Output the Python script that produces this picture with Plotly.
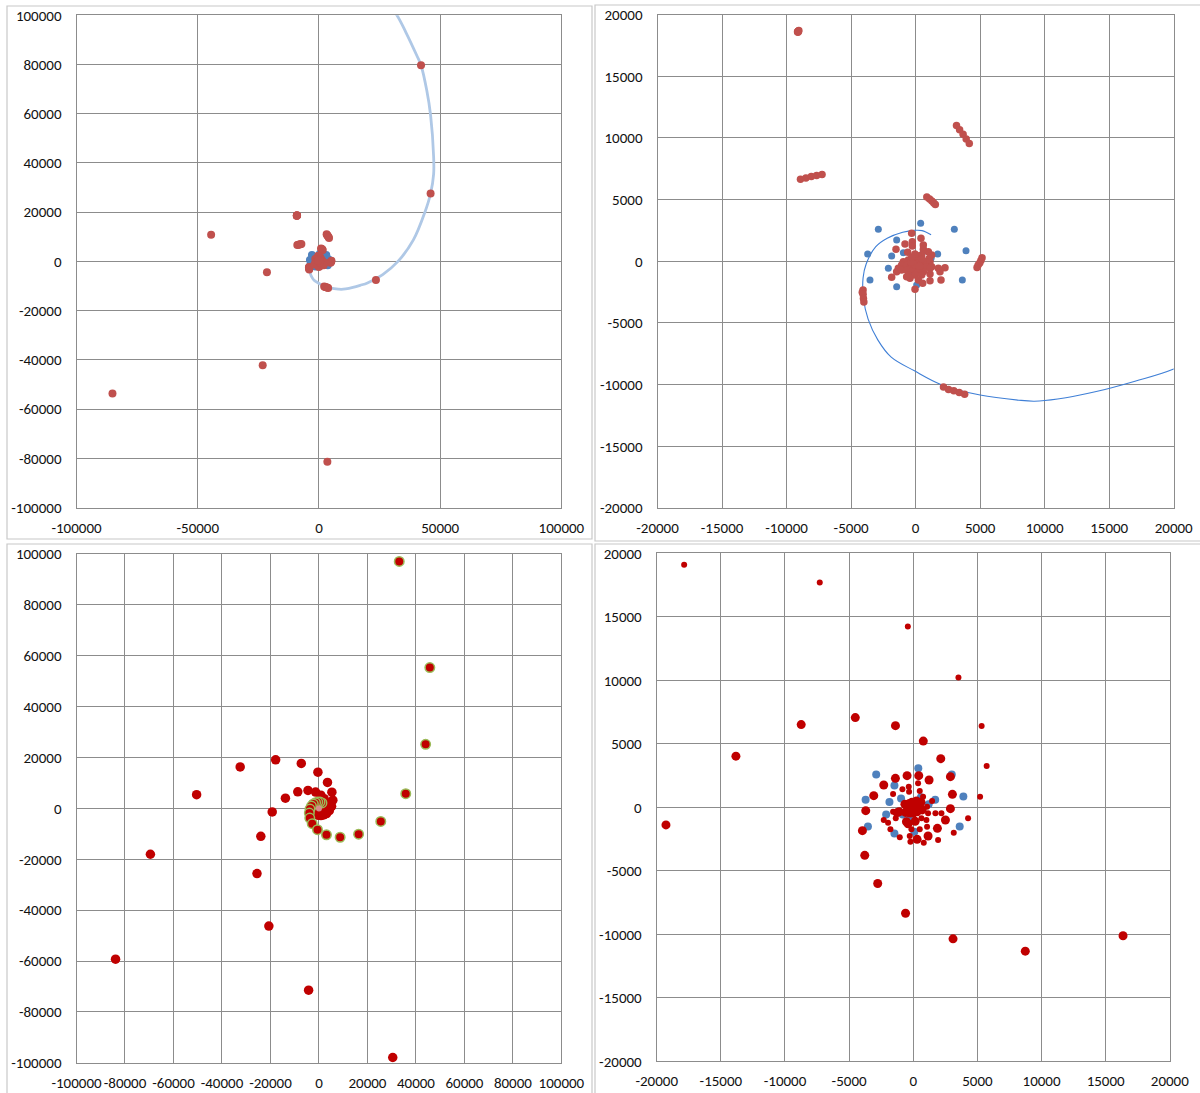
import plotly.graph_objects as go

W, H = 1200, 1093

# ---------------- upper pair: path curve, blue bodies, red bodies ----------------
curve_x = [1200, 500, -100, -1000, -2200, -3100, -3830, -4070, -4040, -3680, -2930, -1890,
           -90, 2000, 5000, 8000, 9200, 11000, 14000, 17000, 20000, 26300, 32600, 38950,
           43700, 46050, 47300, 47300, 46050, 44500, 42100, 40500, 35800, 32170, 29000]
curve_y = [2150, 2490, 2510, 2350, 1870, 1170, -220, -1340, -3020, -4690, -6370, -7770,
           -8880, -10000, -10840, -11260, -11340, -11170, -10560, -9720, -8740, -5350, 0, 8730,
           20000, 27600, 35500, 42500, 59400, 69300, 79700, 83350, 93200, 100000, 104000]

blue_x = [393, -2888, 3001, -1467, 3906, -3714, -1855, -951, 1710, -2113, -3534, -1467,
          3621, 83, -821, 1200, -300, 600]
blue_y = [3078, 2592, 2592, 1727, 862, 592, 430, 700, 592, -570, -1516, -2057,
          -1516, -1921, -570, 250, -900, 800]

red_x = [
    # groups of five
    -9150, -9100, -9050, -9120, -9080,
    -8920, -8500, -8080, -7670, -7250,
    3170, 3410, 3680, 3920, 4160,
    870, 1080, 1260, 1410, 1530,
    5150, 5060, 4970, 4850, 4760,
    -4070, -4130, -4070, -4040, -4010,
    2160, 2550, 2960, 3380, 3800,
    # far bodies
    42100, 46050, 23500, -44470, -21450, -23200, -85160, 3470,
    # core
    -305, 418, -821, -253, -253, -1519, 599, 599, -615, 987, 1245, 1064, -951, -563,
    -176, 212, 470, -46, 341, 728, 1116, -1080, -1338, -692, -305, 83, 470, 858, 1245,
    -1467, -1080, -692, -176, 212, 599, 1116, 1762, 2278, -563, -46, 470, 1116, 1891,
    -1855, -434, 212, 548, 1116, 1968, -46, -692,
    0, 100, -200, 250, -100, 350, -350, 150, -50, 500, 300, -300,
]
red_y = [
    18600, 18680, 18720, 18560, 18640,
    6650, 6760, 6870, 6950, 7040,
    11000, 10670, 10310, 9920, 9550,
    5220, 5060, 4890, 4720, 4610,
    280, 60, -140, -310, -500,
    -2320, -2510, -2680, -3020, -3300,
    -10200, -10390, -10500, -10640, -10780,
    79700, 27600, -7600, 10840, -4360, -42240, -53650, -81380,
    2268, 1862, 1402, 1592, 1240, 970, 1321, 970, 727, 781, 511, 241, -30, 105,
    241, 375, 511, -30, -165, -30, -30, -300, -570, -300, -300, -435, -570, -435, -435,
    -840, -705, -705, -705, -840, -840, -570, -570, -516, -1111, -1111, -1111, -1030, -840,
    -1300, -1381, -1516, -1786, -1570, -1516, -2273, -1246,
    0, 200, 100, -150, -250, 100, -50, 450, 600, 200, -400, 350,
]

# ---------------- lower pair: spiral arms ----------------
arm_a_x = [-83890, -69520, -50460, -32490, -17860, -7290, -422, 3524, 5331, 5723, 5211,
           4275, 3157, 1936, 819, -221, -1052, -1780, -2300, -1962, -1572, -1364, -663,
           -1572, -845, -325, -351, 377, 507, 766, 1468, 1078, 1156, 1728, 2196, 1027, 637,
           1078, 507, -143, -273]
arm_a_y = [-59280, -18010, 5400, 16340, 19110, 17700, 14250, 10220, 6408, 3259, 829,
           -865, -1994, -2572, -2782, -2703, -2361, -1731, -996, -1206, -340, -865, 317,
           1051, 1419, 1235, 1629, 1892, 1288, 841, 500, 54, -471, -471, -471, -996, -865,
           -1522, -1731, -1731, -2256]

arm_b_x = [30440, -4260, -20660, -25550, -23970, -19277, -13825, -8735, -4518, -1386, 783,
           2144, 2898, 3053, 2898, 2508, 1884, 1156, 299, -400, -530, -1100, -1260, 150,
           0, 200, -200, 150, -150, 350, -350, 100, -100, 300, -300, 450, -450, 0, 250,
           -250, 500, -500, 600, -600, 700, -650]
arm_b_y = [-97920, -71470, -46260, -25620, -10940, -1381, 4033, 6518, 7071, 6435, 5220,
           3834, 2417, 1025, -104, -996, -1652, -2256, -2519, -1300, -1130, -350, -420, -1100,
           0, 150, 100, -200, -250, 0, -50, 350, 400, -350, 300, 250, -200, -450, 500,
           -450, -100, 150, 400, -400, -200, 250]

path_x = [1234, 429, -481, -1390, -2300, -3079, -3703, -3963, -3781, -2771, -602, 3102,
          8735, 16355, 25500, 35800, 44000, 45730, 33120]
path_y = [2154, 2495, 2495, 2285, 1760, 920, -261, -1837, -3779, -5994, -8341, -10358,
          -11324, -10109, -5100, 5800, 25200, 55400, 97100]

core_x = [0]
core_y = [0]

# tick positions per view
wide_x_ticks = [-100000, -50000, 0, 50000, 100000]
wide_x_ticks_fine = [-100000, -80000, -60000, -40000, -20000, 0, 20000, 40000, 60000, 80000, 100000]
wide_y_ticks = [-100000, -80000, -60000, -40000, -20000, 0, 20000, 40000, 60000, 80000, 100000]
close_ticks = [-20000, -15000, -10000, -5000, 0, 5000, 10000, 15000, 20000]

# ---------------- styling ----------------
RED = "#C0504D"
BLUE = "#4F81BD"
DARK_RED = "#C00000"
GRID = "#8C8C8C"
FRAME = "#C8C8C8"
FONT = dict(family="Carlito, 'Liberation Sans Narrow', 'DejaVu Sans Condensed', sans-serif",
            size=15, color="#111111")


def px_x(a, b):
    return [a / W, b / W]


def px_y(top, bottom):
    return [1 - bottom / H, 1 - top / H]


panels = {
    "1": dict(xd=px_x(76.5, 561.4), yd=px_y(15.3, 507.5), lim=100000,
              xt=wide_x_ticks, yt=wide_y_ticks),
    "2": dict(xd=px_x(657.5, 1173.7), yd=px_y(14.6, 508.0), lim=20000,
              xt=close_ticks, yt=close_ticks),
    "3": dict(xd=px_x(76.5, 561.4), yd=px_y(554.1, 1062.8), lim=100000,
              xt=wide_x_ticks_fine, yt=wide_y_ticks),
    "4": dict(xd=px_x(656.7, 1169.8), yd=px_y(553.4, 1061.3), lim=20000,
              xt=close_ticks, yt=close_ticks),
}

fig = go.Figure()


def ax_ref(k):
    return ("x" if k == "1" else "x" + k), ("y" if k == "1" else "y" + k)


def add_markers(k, xs, ys, color, size, line=None):
    xa, ya = ax_ref(k)
    fig.add_trace(go.Scatter(
        x=xs, y=ys, mode="markers", xaxis=xa, yaxis=ya, showlegend=False,
        marker=dict(color=color, size=size, line=line or dict(width=0)),
        cliponaxis=True))


def add_curve(k, color, width):
    xa, ya = ax_ref(k)
    fig.add_trace(go.Scatter(
        x=curve_x, y=curve_y, mode="lines", xaxis=xa, yaxis=ya, showlegend=False,
        line=dict(color=color, width=width, shape="spline", smoothing=1.0)))


# upper left: wide view
add_curve("1", "#AFC8E6", 2.8)
add_markers("1", blue_x, blue_y, BLUE, 8)
add_markers("1", red_x, red_y, RED, 8)

# upper right: close view
add_curve("2", "#3F7FD6", 1.1)
add_markers("2", blue_x, blue_y, BLUE, 7)
add_markers("2", red_x, red_y, RED, 7.5)

# lower left: wide view of the arms
add_markers("3", arm_a_x, arm_a_y, DARK_RED, 9.5)
add_markers("3", arm_b_x, arm_b_y, DARK_RED, 9.5)
add_markers("3", path_x, path_y, DARK_RED, 9.5, dict(color="#9BBB59", width=1.5))
add_markers("3", core_x, core_y, "#D98C8C", 6)

# lower right: close view of the arms
add_markers("4", blue_x, blue_y, BLUE, 8)
add_markers("4", arm_b_x, arm_b_y, DARK_RED, 9)
add_markers("4", path_x, path_y, DARK_RED, 9)
add_markers("4", arm_a_x, arm_a_y, DARK_RED, 6)

layout = dict(
    width=W, height=H, margin=dict(l=0, r=0, t=0, b=0, pad=0, autoexpand=False),
    paper_bgcolor="white", plot_bgcolor="white", showlegend=False,
)

for k, p in panels.items():
    xname = "xaxis" if k == "1" else "xaxis" + k
    yname = "yaxis" if k == "1" else "yaxis" + k
    xa, ya = ax_ref(k)
    common = dict(
        showgrid=True, gridcolor=GRID, gridwidth=1,
        zeroline=True, zerolinecolor=GRID, zerolinewidth=1,
        showline=True, linecolor=GRID, linewidth=1, mirror=True,
        ticks="", tickfont=FONT, fixedrange=True, automargin=False,
        tickmode="array", tickangle=0,
    )
    layout[xname] = dict(common, domain=p["xd"], range=[-p["lim"], p["lim"]],
                         tickvals=p["xt"], ticktext=[str(v) for v in p["xt"]],
                         anchor=ya, ticklabelstandoff=6)
    layout[yname] = dict(common, domain=p["yd"], range=[-p["lim"], p["lim"]],
                         tickvals=p["yt"], ticktext=[str(v) for v in p["yt"]],
                         anchor=xa, ticklabelstandoff=11)

fig.update_layout(**layout)

# chart-area frames around each panel
frames = [
    (7, 6, 592, 539),
    (595, 5, 1203, 541),
    (7, 544, 592, 1096),
    (595, 544, 1203, 1096),
]
for (l, t, r, b) in frames:
    fig.add_shape(type="rect", xref="paper", yref="paper",
                  x0=l / W, x1=r / W, y0=1 - b / H, y1=1 - t / H,
                  line=dict(color=FRAME, width=1.2), fillcolor="rgba(0,0,0,0)", layer="below")

fig.write_html("out.html")
